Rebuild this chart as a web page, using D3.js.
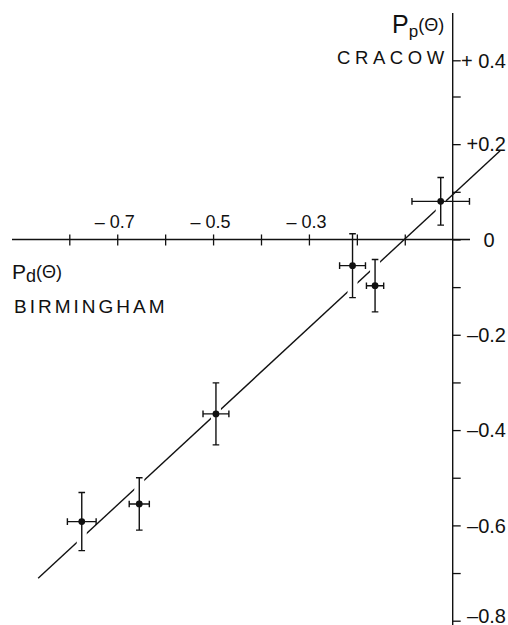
<!DOCTYPE html>
<html><head><meta charset="utf-8">
<script src="https://cdn.jsdelivr.net/npm/d3@7"></script>
<style>
body{margin:0;background:#fff}
svg{display:block}
text{font-family:"Liberation Sans",Arial,sans-serif;fill:#111}
</style>
</head><body><svg id="c" width="508" height="625"></svg>
<script>
// ---- data ----
const pdBirmingham = [-0.774, -0.654, -0.494, -0.209, -0.162, -0.025];
const pdError      = [0.030, 0.021, 0.027, 0.027, 0.018, 0.060];
const ppCracow     = [-0.592, -0.555, -0.366, -0.055, -0.097, 0.080];
const ppError      = [0.061, 0.055, 0.065, 0.067, 0.055, 0.050];
const fitLineX = [-0.865, 0.099];
const fitLineY = [-0.711, 0.186];
const xTickValues = [-0.8, -0.7, -0.6, -0.5, -0.4, -0.3, -0.2, -0.1];
const xTickLabels = ["", "– 0.7", "", "– 0.5", "", "– 0.3", "", ""];
const yTickValues = [0.4, 0.3, 0.2, 0.1, 0, -0.1, -0.2, -0.3, -0.4, -0.5, -0.6, -0.7, -0.8];
const yTickLabels = ["+ 0.4", "", "+0.2", "", "0", "", "–0.2", "", "–0.4", "", "–0.6", "", "–0.8"];

const svg = d3.select("#c");
const ink = "#111";

const x = d3.scaleLinear().domain([-0.8, 0]).range([69.3, 452.7]);
const y = d3.scaleLinear().domain([-0.8, 0.3, 0.4]).range([620.7, 96.5, 60.3]);

const pts = pdBirmingham.map((v, i) => ({x: v, y: ppCracow[i], ex: pdError[i], ey: ppError[i]}));

// fitted line
svg.append("line")
  .attr("x1", x(fitLineX[0])).attr("y1", y(fitLineY[0]))
  .attr("x2", x(fitLineX[1])).attr("y2", y(fitLineY[1]))
  .attr("stroke", ink).attr("stroke-width", 1.4);

// white halos that interrupt the line at the vertical error bars
svg.append("g").selectAll("line").data(pts).join("line")
  .attr("x1", d => x(d.x)).attr("x2", d => x(d.x))
  .attr("y1", d => y(d.y + d.ey)).attr("y2", d => y(d.y - d.ey))
  .attr("stroke", "#fff").attr("stroke-width", 10);

// axes lines
const x0 = x(0), y0 = y(0);
svg.append("line").attr("x1", 12).attr("x2", 470).attr("y1", y0).attr("y2", y0)
  .attr("stroke", ink).attr("stroke-width", 1.4);
svg.append("line").attr("x1", x0).attr("x2", x0).attr("y1", 13).attr("y2", 625)
  .attr("stroke", ink).attr("stroke-width", 1.4);

// horizontal axis ticks (upper half with labels, lower half without)
const gxTop = svg.append("g").attr("transform", `translate(0,${y0})`)
  .call(d3.axisTop(x).tickValues(xTickValues).tickSize(5).tickPadding(6)
    .tickFormat((d, i) => xTickLabels[i]));
const gxBot = svg.append("g").attr("transform", `translate(0,${y0})`)
  .call(d3.axisBottom(x).tickValues(xTickValues).tickSize(6).tickFormat(""));
[gxTop, gxBot].forEach(g => {
  g.select(".domain").remove();
  g.selectAll(".tick line").attr("stroke", ink).attr("stroke-width", 1.3);
});
gxTop.selectAll(".tick text").attr("font-size", 18).attr("fill", ink)
  .attr("font-family", "Liberation Sans, Arial, sans-serif").attr("x", -3);

// vertical axis
const gy = svg.append("g").attr("transform", `translate(${x0},0)`)
  .call(d3.axisRight(y).tickValues(yTickValues).tickSize(8).tickPadding(3)
    .tickFormat((d, i) => yTickLabels[i]));
gy.select(".domain").remove();
gy.selectAll(".tick line").attr("stroke", ink).attr("stroke-width", 1.3);
gy.selectAll(".tick text").attr("font-size", 20).attr("fill", ink)
  .attr("font-family", "Liberation Sans, Arial, sans-serif")
  .attr("text-anchor", d => d === 0 ? "middle" : "end")
  .attr("x", d => d === 0 ? 489 - x0 : 506 - x0)
  .attr("dy", d => d === -0.8 ? "0.1em" : "0.34em");

// error bars
const eb = svg.append("g").attr("stroke", ink).attr("stroke-width", 1.4).attr("fill", "none");
const cap = 3.3;
pts.forEach(d => {
  const cx = x(d.x), cy = y(d.y);
  const yt = y(d.y + d.ey), yb = y(d.y - d.ey);
  const xl = x(d.x - d.ex), xr = x(d.x + d.ex);
  eb.append("path").attr("d",
    `M${cx},${yt}V${yb}` +
    `M${cx - cap},${yt}H${cx + cap}M${cx - cap},${yb}H${cx + cap}` +
    `M${xl},${cy}H${xr}` +
    `M${xl},${cy - cap}V${cy + cap}M${xr},${cy - cap}V${cy + cap}`);
});
svg.append("g").selectAll("circle").data(pts).join("circle")
  .attr("cx", d => x(d.x)).attr("cy", d => y(d.y)).attr("r", 3.4).attr("fill", ink);

// axis titles
const t1 = svg.append("text").attr("x", 392).attr("y", 33);
t1.append("tspan").attr("font-size", 25).text("P");
t1.append("tspan").attr("font-size", 17).attr("dy", 4).text("p");
t1.append("tspan").attr("font-size", 18).attr("dy", -6).text("(Θ)");
svg.append("text").attr("x", 337).attr("y", 63.5).attr("font-size", 18.5)
  .attr("letter-spacing", 4.6).text("CRACOW");

const t2 = svg.append("text").attr("x", 12).attr("y", 278.5);
t2.append("tspan").attr("font-size", 21).text("P");
t2.append("tspan").attr("font-size", 18).attr("dy", 3).text("d");
t2.append("tspan").attr("font-size", 18).attr("dy", -4).text("(Θ)");
svg.append("text").attr("x", 14).attr("y", 313).attr("font-size", 19)
  .attr("letter-spacing", 3).text("BIRMINGHAM");
</script>
</body></html>
